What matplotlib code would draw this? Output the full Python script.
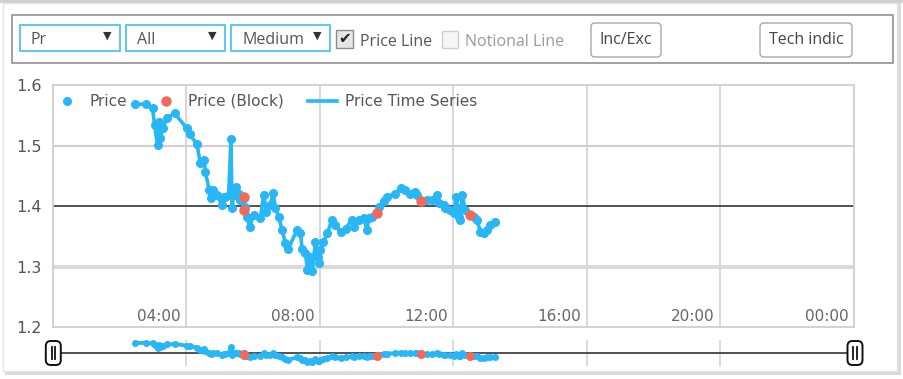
import matplotlib
matplotlib.use("Agg")
import matplotlib.pyplot as plt
import matplotlib.transforms as mtransforms
from matplotlib.patches import Rectangle, FancyBboxPatch
from matplotlib.lines import Line2D

# price ticks, time in hours since midnight
times = [2.47, 2.79, 2.99, 3.05, 3.14, 3.17, 3.22, 3.29, 3.42, 3.65,
         4.02, 4.10, 4.32, 4.42, 4.54, 4.57, 4.69, 4.75, 4.79, 4.92,
         5.07, 5.12, 5.17, 5.27, 5.34, 5.37, 5.42, 5.50, 5.57, 5.62,
         5.70, 5.76, 5.82, 5.90, 6.02, 6.22, 6.32, 6.40, 6.52, 6.60,
         6.67, 6.77, 6.87, 6.97, 7.06, 7.32, 7.42, 7.47, 7.57, 7.63,
         7.72, 7.77, 7.87, 7.95, 7.99, 8.02, 8.11, 8.22, 8.37, 8.47,
         8.62, 8.77, 8.95, 9.01, 9.16, 9.31, 9.42, 9.46, 9.57, 9.72,
         9.76, 9.91, 10.02, 10.26, 10.44, 10.56, 10.71, 10.86, 10.92, 11.03,
         11.21, 11.36, 11.51, 11.56, 11.71, 11.76, 11.91, 12.01, 12.09, 12.16,
         12.21, 12.26, 12.36, 12.49, 12.61, 12.71, 12.81, 12.91, 13.01, 13.11,
         13.26]
prices = [1.569, 1.569, 1.563, 1.535, 1.501, 1.540, 1.513, 1.529, 1.546, 1.554,
          1.529, 1.519, 1.503, 1.471, 1.477, 1.457, 1.427, 1.413, 1.427, 1.419,
          1.402, 1.416, 1.416, 1.419, 1.511, 1.397, 1.419, 1.432, 1.421, 1.410,
          1.412, 1.398, 1.383, 1.366, 1.386, 1.380, 1.419, 1.391, 1.402, 1.422,
          1.397, 1.383, 1.361, 1.339, 1.330, 1.361, 1.355, 1.330, 1.322, 1.294,
          1.316, 1.292, 1.341, 1.316, 1.306, 1.328, 1.341, 1.355, 1.378, 1.369,
          1.358, 1.363, 1.377, 1.366, 1.377, 1.380, 1.361, 1.380, 1.383, 1.388,
          1.399, 1.408, 1.416, 1.421, 1.430, 1.427, 1.421, 1.424, 1.419, 1.408,
          1.410, 1.410, 1.419, 1.405, 1.402, 1.397, 1.394, 1.388, 1.416, 1.383,
          1.377, 1.419, 1.394, 1.386, 1.383, 1.377, 1.358, 1.355, 1.361, 1.369,
          1.374]

block_times = [5.74, 5.74, 9.72, 11.03, 12.49]
block_prices = [1.416, 1.394, 1.388, 1.408, 1.386]

ref_price = 1.4
y_ticks = [1.2, 1.3, 1.4, 1.5, 1.6]
x_ticks = [4, 8, 12, 16, 20, 24]
x_labels = ["04:00", "08:00", "12:00", "16:00", "20:00", "00:00"]

dropdowns = ["Pr", "All", "Medium"]
checks = ["Price Line", "Notional Line"]
buttons = ["Inc/Exc", "Tech indic"]

BLUE = "#29b6f6"
RED = "#ef6a5c"

W, H = 904, 379
fig = plt.figure(figsize=(W / 100, H / 100), dpi=100)
fig.patch.set_facecolor("white")
PX = mtransforms.IdentityTransform()


def pbox(x0, y0, x1, y1, **kw):
    # rectangle in pixel coords measured from the top
    r = Rectangle((x0, H - y1), x1 - x0, y1 - y0, transform=PX, **kw)
    fig.add_artist(r)


def rbox(x0, y0, x1, y1, rad=3, **kw):
    r = FancyBboxPatch((x0, H - y1), x1 - x0, y1 - y0,
                       boxstyle="round,pad=0,rounding_size=%d" % rad,
                       transform=PX, **kw)
    fig.add_artist(r)


def ptext(x, y, s, **kw):
    fig.text(x / W, 1 - y / H, s, **kw)


# panel with shadow
pbox(0, 0, 904, 3, fc="#d0d0d0", ec="none", zorder=-10)
pbox(5, 3, 901, 375, fc="#d9d9d9", ec="none", zorder=-10)
pbox(3, 3, 897, 371, fc="white", ec="#e4e4e4", lw=1, zorder=-9)

# toolbar
pbox(12, 15, 893, 63, fc="white", ec="#9a9a9a", lw=1.3)
dd_x = [(20, 120), (126, 225), (231, 330)]
for (a, b), lab in zip(dd_x, dropdowns):
    pbox(a, 25, b, 51, fc="white", ec="#4fc3f7", lw=1.3)
    ptext(a + 11, 40, lab, fontsize=11.5, color="#555", va="center", family="Open Sans")
    ptext(b - 9, 36, "\u25bc", fontsize=8, color="#333", va="center", ha="right")

pbox(336, 30, 353, 48, fc="#e6e6e6", ec="#8c8c8c", lw=1)
ptext(344.5, 38.5, "\u2714", fontsize=11, color="#222", va="center", ha="center")
ptext(360, 42, checks[0], fontsize=11.5, color="#555", va="center", family="Open Sans")
pbox(442, 31, 458, 48, fc="#f5f5f5", ec="#cfcfcf", lw=1)
ptext(465, 42, checks[1], fontsize=11.5, color="#9a9a9a", va="center", family="Open Sans")

for (a, b), lab in zip([(591, 661), (760, 852)], buttons):
    rbox(a, 23, b, 57, rad=4, fc="white", ec="#a8a8a8", lw=1)
    ptext((a + b) / 2, 40, lab, fontsize=11.5, color="#444", va="center", ha="center",
          family="Open Sans")

# main chart
L, R, T, B = 52.7, 854, 85.5, 327
ax = fig.add_axes([L / W, 1 - B / H, (R - L) / W, (B - T) / H])
ax.set_facecolor("white")
ax.set_xlim(0, 24)
ax.set_ylim(1.2, 1.6)
for s in ax.spines.values():
    s.set_color("#cfcfcf")
    s.set_linewidth(1.3)

for x in x_ticks[:-1]:
    ax.axvline(x, color="#d4d4d4", lw=1.3, zorder=0)
ax.axhline(1.5, color="#d0d0d0", lw=1.5, zorder=0)
ax.axhline(1.3, color="#d9d9d9", lw=2.8, zorder=0)
ax.axhline(ref_price, color="#333333", lw=1.2, zorder=1)

ax.set_xticks(x_ticks)
ax.set_xticklabels([])
ax.set_yticks(y_ticks)
ax.set_yticklabels(["%.1f" % v for v in y_ticks])
ax.tick_params(axis="both", length=0)
ax.tick_params(axis="y", pad=8, labelsize=11.5, labelcolor="#555")

shift = mtransforms.ScaledTranslation(-4 / 72, 0, fig.dpi_scale_trans)
for x, lab in zip(x_ticks, x_labels):
    ax.text(x, 0.045, lab, transform=ax.get_xaxis_transform() + shift,
            ha="right", va="center", fontsize=11, color="#666")

line, = ax.plot(times, prices, color=BLUE, lw=2.6, zorder=3, label="Price Time Series")
dots, = ax.plot(times, prices, ls="none", marker="o", ms=5.5, color=BLUE, zorder=4, label="Price")
blk, = ax.plot(block_times, block_prices, ls="none", marker="o", ms=6.5, color=RED, zorder=5,
               label="Price (Block)")

leg = ax.legend(handles=[dots, blk, line], loc="upper left", bbox_to_anchor=(0.0, 0.965),
                ncol=3, frameon=False, fontsize=11, handlelength=1.9, handletextpad=0.5,
                columnspacing=1.6, borderaxespad=0, borderpad=0)
for t in leg.get_texts():
    t.set_color("#555")

# navigator
NT, NB = 340, 366
nav = fig.add_axes([L / W, 1 - NB / H, (R - L) / W, (NB - NT) / H])
nav.set_xlim(0, 24)
nav.set_ylim(1.24, 1.61)
nav.axis("off")
for x in x_ticks[:-1]:
    nav.axvline(x, color="#d4d4d4", lw=1.2, zorder=0)
nav.plot([0, 1], [0.5, 0.5], transform=nav.transAxes, color="#333", lw=1.2, zorder=1)
nav.plot(times, prices, color=BLUE, lw=2.8, marker="o", ms=4, zorder=3)
nav.plot(block_times, block_prices, ls="none", marker="o", ms=5.5, color=RED, zorder=4)

# navigator handles
for cx in [53.3, 855]:
    rbox(cx - 7.5, 341, cx + 7.5, 365, rad=5, fc="white", ec="#111", lw=1.4, zorder=10)
    for dx in [-1.7, 1.7]:
        fig.add_artist(Line2D([cx + dx, cx + dx], [H - 347, H - 359], transform=PX,
                              color="#111", lw=1.3, zorder=11))

plt.savefig("out.png", dpi=100)
